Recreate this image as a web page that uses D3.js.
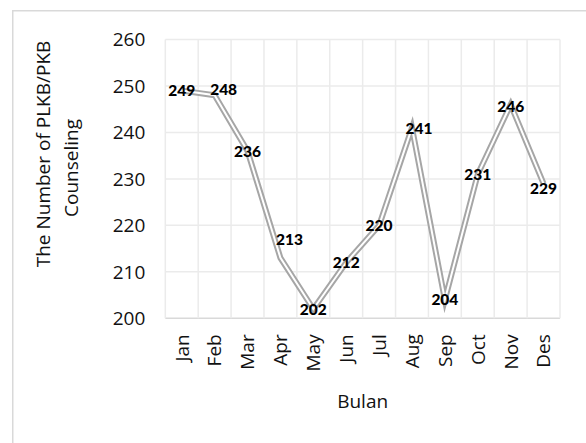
<!DOCTYPE html>
<html>
<head>
<meta charset="utf-8">
<script src="https://cdn.jsdelivr.net/npm/d3@7"></script>
<style>
  body { margin: 0; background: #fff; }
  .tick-label { font-family: "Open Sans", sans-serif; font-size: 19px; fill: #111; }
  .axis-title { font-family: "Open Sans", sans-serif; font-size: 19px; fill: #111; }
  .point-label { font-family: Lato, sans-serif; font-size: 15.5px; font-weight: 900; fill: #000; }
</style>
</head>
<body>
<svg id="chart" width="586" height="443"></svg>
<script>
// data
var months = ["Jan", "Feb", "Mar", "Apr", "May", "Jun", "Jul", "Aug", "Sep", "Oct", "Nov", "Des"];
var counts = [249, 248, 236, 213, 202, 212, 220, 241, 204, 231, 246, 229];
var yTicks = [200, 210, 220, 230, 240, 250, 260];
var yTitle = ["The Number of PLKB/PKB", "Counseling"];
var xTitle = "Bulan";

var svg = d3.select("#chart"),
    margin = { top: 39.5, left: 165.3, right: 26, bottom: 124.7 },
    width = +svg.attr("width") - margin.left - margin.right,
    height = +svg.attr("height") - margin.top - margin.bottom;

// outer chart border (runs off the picture on the right and bottom)
svg.append("rect")
    .attr("x", 12.75).attr("y", 10.75)
    .attr("width", 620).attr("height", 500)
    .attr("fill", "none")
    .attr("stroke", "#d9d9d9")
    .attr("stroke-width", 1.5);

var x = d3.scaleBand().domain(months).range([0, width]);
var y = d3.scaleLinear().domain([200, 260]).range([height, 0]);

var g = svg.append("g")
    .attr("transform", "translate(" + margin.left + "," + margin.top + ")");

// gridlines
g.append("g").selectAll("line")
    .data(yTicks)
    .enter().append("line")
    .attr("x1", 0).attr("x2", width)
    .attr("y1", function (d) { return y(d); })
    .attr("y2", function (d) { return y(d); })
    .attr("stroke", function (d) { return d === 200 ? "#d9d9d9" : "#ebebeb"; })
    .attr("stroke-width", 1.5);

var bounds = months.map(function (m) { return x(m); }).concat([width]);
g.append("g").selectAll("line")
    .data(bounds)
    .enter().append("line")
    .attr("x1", function (d) { return d; })
    .attr("x2", function (d) { return d; })
    .attr("y1", 0).attr("y2", height)
    .attr("stroke", "#ebebeb")
    .attr("stroke-width", 1.5);

// y tick labels
g.append("g").selectAll("text")
    .data(yTicks)
    .enter().append("text")
    .attr("class", "tick-label")
    .attr("x", -20)
    .attr("y", function (d) { return y(d); })
    .attr("dy", "0.36em")
    .attr("text-anchor", "end")
    .text(function (d) { return d; });

// x tick labels (rotated)
g.append("g").selectAll("text")
    .data(months)
    .enter().append("text")
    .attr("class", "tick-label")
    .attr("transform", function (d) {
        return "translate(" + (x(d) + x.bandwidth() / 2) + "," + (height + 16) + ") rotate(-90)";
    })
    .attr("dy", "0.36em")
    .attr("text-anchor", "end")
    .text(function (d) { return d; });

// axis titles
svg.append("text")
    .attr("class", "axis-title")
    .attr("text-anchor", "middle")
    .attr("x", margin.left + width / 2)
    .attr("y", 408)
    .text(xTitle);

svg.append("text")
    .attr("class", "axis-title")
    .attr("text-anchor", "middle")
    .attr("transform", "translate(50,154) rotate(-90)")
    .text(yTitle[0]);
svg.append("text")
    .attr("class", "axis-title")
    .attr("text-anchor", "middle")
    .attr("transform", "translate(77.5,168) rotate(-90)")
    .text(yTitle[1]);

// double line
var line = d3.line()
    .x(function (d, i) { return x(months[i]) + x.bandwidth() / 2; })
    .y(function (d) { return y(d); });

g.append("path")
    .datum(counts)
    .attr("d", line)
    .attr("fill", "none")
    .attr("stroke", "#a6a6a6")
    .attr("stroke-width", 6)
    .attr("stroke-linejoin", "miter")
    .attr("stroke-miterlimit", 10);

g.append("path")
    .datum(counts)
    .attr("d", line)
    .attr("fill", "none")
    .attr("stroke", "#fff")
    .attr("stroke-width", 2)
    .attr("stroke-linejoin", "miter")
    .attr("stroke-miterlimit", 10);

// data labels, mostly centred on the point; a few were nudged in the original
var nudge = { Feb: [9, -6], Apr: [9, -18], Aug: [7, 1], Nov: [0, 2], Des: [0, 5] };
g.append("g").selectAll("text")
    .data(counts)
    .enter().append("text")
    .attr("class", "point-label")
    .attr("text-anchor", "middle")
    .attr("x", function (d, i) {
        var n = nudge[months[i]] || [0, 0];
        return x(months[i]) + x.bandwidth() / 2 + n[0];
    })
    .attr("y", function (d, i) {
        var n = nudge[months[i]] || [0, 0];
        return y(d) + n[1];
    })
    .attr("dy", "0.36em")
    .text(function (d) { return d; });
</script>
</body>
</html>
